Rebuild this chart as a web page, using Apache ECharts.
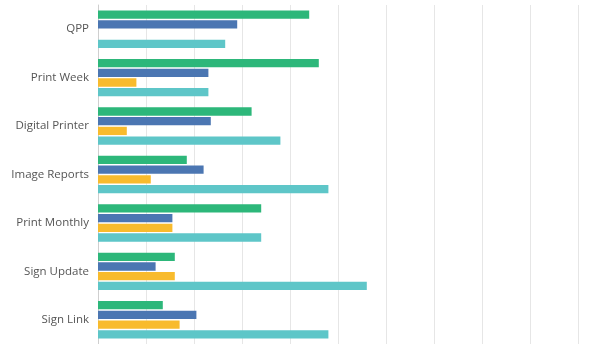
<!DOCTYPE html>
<html>
<head>
<meta charset="utf-8">
<script src="https://cdn.jsdelivr.net/npm/echarts@6/dist/echarts.min.js"></script>
<style>
  html, body { margin: 0; padding: 0; background: #fff; }
  #chart { width: 596px; height: 344px; }
</style>
</head>
<body>
<div id="chart"></div>
<script>
// Categories, top to bottom
const categories = ['QPP', 'Print Week', 'Digital Printer', 'Image Reports', 'Print Monthly', 'Sign Update', 'Sign Link'];

// Four series per category (percent)
const greenValues  = [44, 46, 32, 18.5, 34, 16, 13.5];
const blueValues   = [29, 23, 23.5, 22, 15.5, 12, 20.5];
const yellowValues = [0, 8, 6, 11, 15.5, 16, 17];
const tealValues   = [26.5, 23, 38, 48, 34, 56, 48];

// Value axis ticks
const axisMin = 0;
const axisMax = 100;
const axisStep = 10;

const colors = ['#2db77a', '#4b76b2', '#f8bb2d', '#5ec6c8'];
const seriesData = [greenValues, blueValues, yellowValues, tealValues];

const chart = echarts.init(document.getElementById('chart'), null, { renderer: 'canvas' });

chart.setOption({
  animation: false,
  grid: { left: 98, right: 18, top: 5, bottom: 0, containLabel: false },
  xAxis: {
    type: 'value',
    min: axisMin,
    max: axisMax,
    interval: axisStep,
    axisLabel: { show: false },
    axisTick: { show: false },
    axisLine: { show: false },
    splitLine: { show: true, lineStyle: { color: '#e6e6e6', width: 1 } }
  },
  yAxis: {
    type: 'category',
    inverse: true,
    data: categories,
    axisTick: { show: false },
    axisLine: { show: true, lineStyle: { color: '#cfcfcf', width: 1 } },
    axisLabel: {
      margin: 9,
      color: '#555',
      fontSize: 11.5,
      fontFamily: 'Open Sans',
      padding: [4, 0, 0, 0]
    }
  },
  series: seriesData.map((d, i) => ({
    type: 'bar',
    data: d,
    barWidth: 8.3,
    barGap: '17%',
    itemStyle: { color: colors[i] }
  }))
});
</script>
</body>
</html>
